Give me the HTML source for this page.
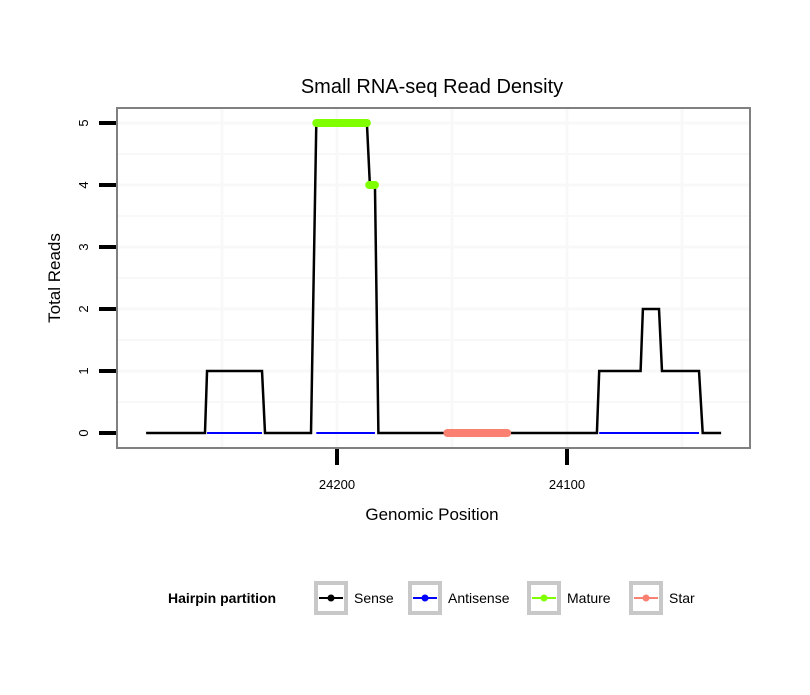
<!DOCTYPE html>
<html><head><meta charset="utf-8"><style>
body{margin:0;background:#fff;font-family:"Liberation Sans",Arial,sans-serif}
</style></head><body>
<svg id="c" width="810" height="690" xmlns="http://www.w3.org/2000/svg">
<rect width="810" height="690" fill="#fff"/>
<g id="grid"></g>
<text x="432" y="93" text-anchor="middle" font-size="20">Small RNA-seq Read Density</text>
<g id="marks"></g>
<rect x="117" y="108" width="633" height="340" fill="none" stroke="#808080" stroke-width="2"/>
<g id="axes"></g>
<text x="432" y="520" text-anchor="middle" font-size="17">Genomic Position</text>
<text transform="translate(60,278) rotate(-90)" text-anchor="middle" font-size="17">Total Reads</text>
<g id="legend"></g>
</svg>
<script>
const senseX=[24283,24257.4,24256.5,24232.6,24231.3,24211.3,24209,24187,24185.7,24183.5,24182,24087,24086,24068,24067,24060,24058.7,24042.6,24041,24033];
const senseY=[0,0,1,1,0,0,5,5,4,4,0,0,1,1,2,2,1,1,0,0];
const antiSegs=[[24256.5,24232.6],[24209,24183.5],[24086,24042.6]];
const matureSegs=[[24209,24187,5],[24186,24183.5,4]];
const starSegs=[[24152,24126,0]];
const xTicks=[24200,24100];
const yTicks=[0,1,2,3,4,5];
const NS="http://www.w3.org/2000/svg";
const X=p=>337+(24200-p)*2.3;
const Y=v=>433-v*62;
function mk(t,a,parent){const e=document.createElementNS(NS,t);for(const k in a)e.setAttribute(k,a[k]);document.getElementById(parent).appendChild(e);return e;}
// grid
for(let v=0.5;v<=5;v+=0.5){const l=mk('line',{x1:118,x2:749,y1:Y(v),y2:Y(v),stroke:'#f8f8f8','stroke-width':v%1?2:3},'grid');

}
[24250,24200,24150,24100,24050].forEach(p=>{const l=mk('line',{x1:X(p),x2:X(p),y1:109,y2:447,stroke:'#f8f8f8','stroke-width':3},'grid');

});
// sense
const sp=mk('polyline',{points:senseX.map((x,i)=>X(x)+','+Y(senseY[i])).join(' '),fill:'none',stroke:'#000','stroke-width':2.5},'marks');


antiSegs.forEach(s=>{const l=mk('line',{x1:X(s[0]),x2:X(s[1]),y1:Y(0),y2:Y(0),stroke:'#0000ff','stroke-width':2},'marks');

});
matureSegs.forEach(s=>{const l=mk('line',{x1:X(s[0]),x2:X(s[1]),y1:Y(s[2]),y2:Y(s[2]),stroke:'#7fff00','stroke-width':8,'stroke-linecap':'round'},'marks');

});
starSegs.forEach(s=>{const l=mk('line',{x1:X(s[0]),x2:X(s[1]),y1:Y(s[2]),y2:Y(s[2]),stroke:'#fa8072','stroke-width':8,'stroke-linecap':'round'},'marks');

});
// axes
yTicks.forEach(v=>{const t=mk('line',{x1:99,x2:116,y1:Y(v),y2:Y(v),stroke:'#000','stroke-width':4},'axes');


const tx=mk('text',{transform:`translate(88,${Y(v)}) rotate(-90)`,'text-anchor':'middle','font-size':13},'axes');tx.textContent=v;

});
xTicks.forEach(p=>{const t=mk('line',{x1:X(p),x2:X(p),y1:449,y2:465,stroke:'#000','stroke-width':4},'axes');


const tx=mk('text',{x:X(p),y:489,'text-anchor':'middle','font-size':13},'axes');tx.textContent=p;

});
// legend
const lt=mk('text',{x:168,y:603,'font-size':14,'font-weight':'bold'},'legend');lt.textContent='Hairpin partition';


const leg=[['Sense','#000',314],['Antisense','#0000ff',408],['Mature','#7fff00',527],['Star','#fa8072',629]];
leg.forEach(e=>{const g=mk('g',{},'legend');


const x=e[2];
const r=document.createElementNS(NS,'rect');[['x',x+2],['y',583],['width',30],['height',30],['fill','#fff'],['stroke','#c8c8c8'],['stroke-width',4]].forEach(a=>r.setAttribute(a[0],a[1]));g.appendChild(r);
const l=document.createElementNS(NS,'line');[['x1',x+5],['x2',x+29],['y1',598],['y2',598],['stroke',e[1]],['stroke-width',2]].forEach(a=>l.setAttribute(a[0],a[1]));g.appendChild(l);
const c=document.createElementNS(NS,'circle');[['cx',x+17],['cy',598],['r',3.5],['fill',e[1]]].forEach(a=>c.setAttribute(a[0],a[1]));g.appendChild(c);
const t=document.createElementNS(NS,'text');[['x',x+40],['y',603],['font-size',14]].forEach(a=>t.setAttribute(a[0],a[1]));t.textContent=e[0];g.appendChild(t);});
</script>
</body></html>
